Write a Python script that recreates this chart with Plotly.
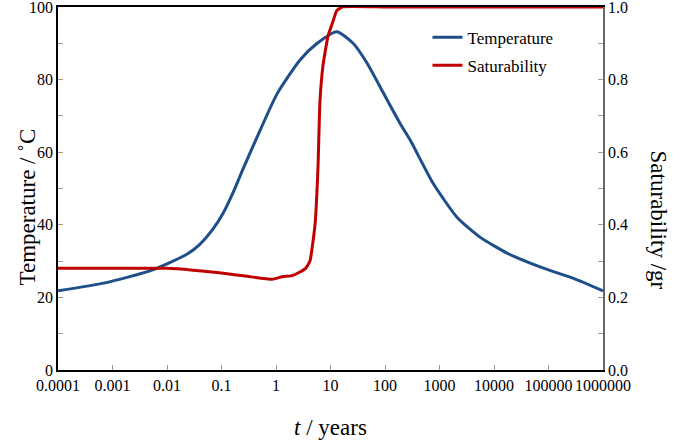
import plotly.graph_objects as go

# Temperature curve
temp_t = [1e-4, 7.3e-4, 0.0053, 0.024, 0.04, 0.068, 0.107, 0.17, 0.25, 0.51, 1.04, 2.76, 5.7, 13, 26, 47, 92, 123, 188, 288, 758, 2090, 5530, 17400, 69800, 2.8e5, 1e6]
temp_v = [21.8, 24, 27.5, 32.0, 34.6, 38.6, 43.2, 49.5, 55.5, 66, 76, 85.4, 90, 93.2, 90, 84.5, 76.5, 73, 68, 63.4, 51.5, 42.1, 36.6, 32.2, 28.4, 25.3, 21.8]

# Saturability curve
sat_t = [1e-4, 0.01, 0.03, 0.1, 0.3, 0.85, 1.3, 1.97, 2.76, 3.5, 4.2, 5.2, 5.9, 6.4, 7.3, 9.0, 11.1, 13, 16.3, 100, 1e4, 1e6]
sat_v = [0.28, 0.28, 0.275, 0.267, 0.258, 0.25, 0.257, 0.26, 0.27, 0.28, 0.30, 0.40, 0.56, 0.74, 0.84, 0.92, 0.96, 0.99, 1.0, 1.0, 1.0, 1.0]

x_tickvals = [1e-4, 1e-3, 1e-2, 1e-1, 1, 10, 100, 1000, 10000, 100000, 1000000]
x_ticktext = ["0.0001", "0.001", "0.01", "0.1", "1", "10", "100", "1000", "10000", "100000", "1000000"]

FONT = "Liberation Serif"
BLUE = "#1F4E89"
RED = "#C00000"
TITLE_SIZE = 23

fig = go.Figure()
fig.add_trace(go.Scatter(x=temp_t, y=temp_v, mode="lines", name="Temperature",
                         line=dict(color=BLUE, width=3, shape="spline", smoothing=0.6),
                         legendgroup="a"))
fig.add_trace(go.Scatter(x=sat_t, y=sat_v, mode="lines", name="Saturability", yaxis="y2",
                         line=dict(color=RED, width=3, shape="spline", smoothing=0.4),
                         legendgroup="b"))

fig.update_layout(
    width=685, height=444,
    margin=dict(l=58, r=82, t=7, b=74, autoexpand=False),
    paper_bgcolor="white", plot_bgcolor="white",
    font=dict(family=FONT, size=16, color="black"),
    showlegend=True,
    legend=dict(x=0.678, y=0.965, xanchor="left", yanchor="top",
                font=dict(family=FONT, size=17), bgcolor="rgba(0,0,0,0)",
                tracegroupgap=3, traceorder="grouped"),
    xaxis=dict(type="log", range=[-4, 6], tickvals=x_tickvals, ticktext=x_ticktext,
               tickangle=0, automargin=False, ticklabeloverflow="allow",
               ticks="inside", ticklen=5, tickcolor="#999", showgrid=False, zeroline=False,
               showline=True, linecolor="black", linewidth=1.5, mirror=True,
               tickfont=dict(family=FONT, size=16),
               title=dict(text="<i>t</i> / years", font=dict(family=FONT, size=TITLE_SIZE), standoff=26)),
    yaxis=dict(range=[0, 100], dtick=20, ticks="inside", ticklen=5, tickcolor="#999",
               minor=dict(dtick=10, ticks="inside", ticklen=5, tickcolor="#999"),
               automargin=False, ticklabeloverflow="allow",
               showgrid=False, zeroline=False, showline=True, linecolor="black", linewidth=1.5,
               tickfont=dict(family=FONT, size=16)),
    yaxis2=dict(range=[0, 1.0], dtick=0.2, tickformat=".1f", overlaying="y", side="right",
                ticks="inside", ticklen=5, tickcolor="#999", automargin=False,
                ticklabeloverflow="allow",
                minor=dict(dtick=0.1, ticks="inside", ticklen=5, tickcolor="#999"),
                showgrid=False, zeroline=False, showline=True, linecolor="#666", linewidth=1.5,
                tickfont=dict(family=FONT, size=16)),
)

fig.add_annotation(text="Temperature / ˚C", xref="paper", yref="paper", x=0.0, y=0.449,
                   xshift=-45, textangle=-90, showarrow=False,
                   font=dict(family=FONT, size=TITLE_SIZE))
fig.add_annotation(text="Saturability /gr", xref="paper", yref="paper", x=1.0, y=0.413,
                   xshift=70, textangle=90, showarrow=False,
                   font=dict(family=FONT, size=TITLE_SIZE))

fig.write_html("out.html", config={"displayModeBar": False},
               post_script="document.body.style.margin='0';document.body.style.padding='0';")
